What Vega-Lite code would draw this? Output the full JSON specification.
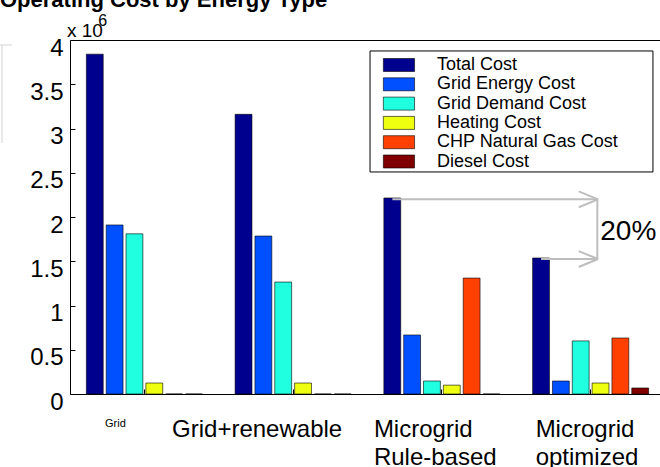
{
  "$schema": "https://vega.github.io/schema/vega-lite/v6.json",
  "width": 590,
  "height": 354,
  "autosize": {"type": "none"},
  "padding": {"left": 70, "top": 40, "right": 0, "bottom": 73},
  "background": "white",
  "title": {
    "text": "Operating Cost by Energy Type",
    "fontSize": 22,
    "fontWeight": "bold",
    "font": "Liberation Sans",
    "color": "black",
    "anchor": "start",
    "frame": "group",
    "baseline": "alphabetic",
    "offset": 6,
    "dy": 22,
    "dx": -70
  },
  "config": {
    "view": {"stroke": null},
    "font": "Liberation Sans"
  },
  "datasets": {
    "costs": [
      {"scenario": "Grid", "cost": "Total Cost", "value": 3.84},
      {"scenario": "Grid", "cost": "Grid Energy Cost", "value": 1.91},
      {"scenario": "Grid", "cost": "Grid Demand Cost", "value": 1.81},
      {"scenario": "Grid", "cost": "Heating Cost", "value": 0.124},
      {"scenario": "Grid", "cost": "CHP Natural Gas Cost", "value": 0},
      {"scenario": "Grid", "cost": "Diesel Cost", "value": 0},
      {"scenario": "Grid+renewable", "cost": "Total Cost", "value": 3.16},
      {"scenario": "Grid+renewable", "cost": "Grid Energy Cost", "value": 1.785},
      {"scenario": "Grid+renewable", "cost": "Grid Demand Cost", "value": 1.265},
      {"scenario": "Grid+renewable", "cost": "Heating Cost", "value": 0.124},
      {"scenario": "Grid+renewable", "cost": "CHP Natural Gas Cost", "value": 0},
      {"scenario": "Grid+renewable", "cost": "Diesel Cost", "value": 0},
      {"scenario": "Microgrid Rule-based", "cost": "Total Cost", "value": 2.215},
      {"scenario": "Microgrid Rule-based", "cost": "Grid Energy Cost", "value": 0.667},
      {"scenario": "Microgrid Rule-based", "cost": "Grid Demand Cost", "value": 0.147},
      {"scenario": "Microgrid Rule-based", "cost": "Heating Cost", "value": 0.1},
      {"scenario": "Microgrid Rule-based", "cost": "CHP Natural Gas Cost", "value": 1.31},
      {"scenario": "Microgrid Rule-based", "cost": "Diesel Cost", "value": 0},
      {"scenario": "Microgrid optimized", "cost": "Total Cost", "value": 1.537},
      {"scenario": "Microgrid optimized", "cost": "Grid Energy Cost", "value": 0.147},
      {"scenario": "Microgrid optimized", "cost": "Grid Demand Cost", "value": 0.6},
      {"scenario": "Microgrid optimized", "cost": "Heating Cost", "value": 0.124},
      {"scenario": "Microgrid optimized", "cost": "CHP Natural Gas Cost", "value": 0.633},
      {"scenario": "Microgrid optimized", "cost": "Diesel Cost", "value": 0.068}
    ],
    "arrows": [
      {"x": 2.667, "y": 2.2, "x2": 4.05, "y2": 2.2},
      {"x": 3.667, "y": 1.525, "x2": 4.05, "y2": 1.525},
      {"x": 4.05, "y": 2.2, "x2": 3.92, "y2": 2.29},
      {"x": 4.05, "y": 2.2, "x2": 3.92, "y2": 2.11},
      {"x": 4.05, "y": 1.525, "x2": 3.92, "y2": 1.615},
      {"x": 4.05, "y": 1.525, "x2": 3.92, "y2": 1.435},
      {"x": 4.045, "y": 2.2, "x2": 4.045, "y2": 1.525}
    ],
    "remnant": [
      {"x": 0.043, "y": 3.944, "x2": 0.043, "y2": 2.836},
      {"x": 0.029, "y": 3.944, "x2": 0.11, "y2": 3.944}
    ],
    "legendbox": [
      {"x": 2.517, "y": 3.876, "x2": 4.419, "y2": 2.509}
    ],
    "notes": [
      {"kind": "base", "text": "x 10", "x": 0.48, "y": 4.034},
      {"kind": "exp", "text": "6", "x": 0.69, "y": 4.158},
      {"kind": "pct", "text": "20%", "x": 4.065, "y": 1.83}
    ]
  },
  "layer": [
    {
      "data": {"name": "costs"},
      "mark": {"type": "bar", "stroke": "black", "strokeWidth": 0.6},
      "encoding": {
        "x": {
          "field": "scenario",
          "type": "nominal",
          "sort": ["Grid", "Grid+renewable", "Microgrid Rule-based", "Microgrid optimized"],
          "scale": {"range": [0, 595], "paddingInner": 0.2, "paddingOuter": 0.1},
          "axis": {
            "title": null,
            "labelAngle": 0,
            "labelExpr": "split(datum.label, ' ')",
            "labelFont": "Liberation Sans",
            "labelColor": "black",
            "labelFontSize": {"condition": {"test": "datum.value === 'Grid'", "value": 11}, "value": 24},
            "labelAlign": {"condition": {"test": "indexof(datum.value, 'Microgrid') === 0", "value": "left"}, "value": "center"},
            "labelOffset": {
              "condition": [
                {"test": "datum.value === 'Grid'", "value": -29},
                {"test": "datum.value === 'Grid+renewable'", "value": -36},
                {"test": "datum.value === 'Microgrid Rule-based'", "value": -68}
              ],
              "value": -55
            },
            "labelBaseline": "top",
            "labelPadding": 28,
            "labelLineHeight": 28,
            "labelLimit": 0,
            "tickSize": -5,
            "tickColor": "black",
            "domainColor": "black",
            "grid": false
          }
        },
        "xOffset": {
          "field": "cost",
          "type": "nominal",
          "sort": ["Total Cost", "Grid Energy Cost", "Grid Demand Cost", "Heating Cost", "CHP Natural Gas Cost", "Diesel Cost"],
          "scale": {"paddingInner": 0.15, "paddingOuter": 0.075}
        },
        "y": {
          "field": "value",
          "type": "quantitative",
          "scale": {"domain": [0, 4], "nice": false},
          "axis": {
            "title": null,
            "values": [0, 0.5, 1, 1.5, 2, 2.5, 3, 3.5, 4],
            "format": "~g",
            "labelFont": "Liberation Sans",
            "labelFontSize": 24,
            "labelColor": "black",
            "labelPadding": 12,
            "labelOffset": 8,
            "tickSize": -5,
            "tickColor": "black",
            "domainColor": "black",
            "grid": false
          }
        },
        "color": {
          "field": "cost",
          "type": "nominal",
          "scale": {
            "domain": ["Total Cost", "Grid Energy Cost", "Grid Demand Cost", "Heating Cost", "CHP Natural Gas Cost", "Diesel Cost"],
            "range": ["#00008F", "#0050FF", "#20FFDF", "#EFFF10", "#FF4000", "#800000"]
          },
          "legend": {
            "title": null,
            "orient": "none",
            "legendX": 300,
            "legendY": 11,
            "strokeColor": null,
            "fillColor": null,
            "padding": 5,
            "symbolType": "M-0.1,-1H4.7V1H-0.1Z",
            "symbolSize": 169,
            "symbolStrokeColor": "black",
            "symbolStrokeWidth": 0.6,
            "symbolOpacity": 1,
            "labelFont": "Liberation Sans",
            "labelFontSize": 18,
            "labelColor": "black",
            "labelOffset": 44,
            "labelLimit": 0,
            "rowPadding": 1.3
          }
        }
      }
    },
    {
      "encoding": {
        "x": {
          "field": "x",
          "type": "quantitative",
          "scale": {"domain": [0.5, 4.5], "range": [0, 595], "nice": false, "zero": false},
          "axis": {"orient": "top", "title": null, "labels": false, "ticks": false, "grid": false, "domainColor": "black"}
        },
        "y": {"field": "y", "type": "quantitative", "scale": {"domain": [0, 4], "nice": false}, "axis": null}
      },
      "layer": [
        {
          "data": {"name": "arrows"},
          "mark": {"type": "rule", "color": "#BEBEBE", "strokeWidth": 2},
          "encoding": {"x2": {"field": "x2"}, "y2": {"field": "y2"}}
        },
        {
          "data": {"name": "remnant"},
          "mark": {"type": "rule", "color": "#D4D4D4", "strokeWidth": 1},
          "encoding": {"x2": {"field": "x2"}, "y2": {"field": "y2"}}
        },
        {
          "data": {"name": "legendbox"},
          "mark": {"type": "rect", "fill": "white", "stroke": "black", "strokeWidth": 1},
          "encoding": {"x2": {"field": "x2"}, "y2": {"field": "y2"}}
        },
        {
          "data": {"name": "notes"},
          "transform": [{"filter": "datum.kind === 'base'"}],
          "mark": {"type": "text", "align": "left", "baseline": "alphabetic", "fontSize": 19, "font": "Liberation Sans", "color": "black"},
          "encoding": {"text": {"field": "text"}}
        },
        {
          "data": {"name": "notes"},
          "transform": [{"filter": "datum.kind === 'exp'"}],
          "mark": {"type": "text", "align": "left", "baseline": "alphabetic", "fontSize": 16, "font": "Liberation Sans", "color": "black"},
          "encoding": {"text": {"field": "text"}}
        },
        {
          "data": {"name": "notes"},
          "transform": [{"filter": "datum.kind === 'pct'"}],
          "mark": {"type": "text", "align": "left", "baseline": "middle", "fontSize": 28, "font": "Liberation Sans", "color": "black"},
          "encoding": {"text": {"field": "text"}}
        }
      ]
    }
  ],
  "resolve": {"scale": {"x": "independent"}, "axis": {"x": "independent", "y": "independent"}}
}
